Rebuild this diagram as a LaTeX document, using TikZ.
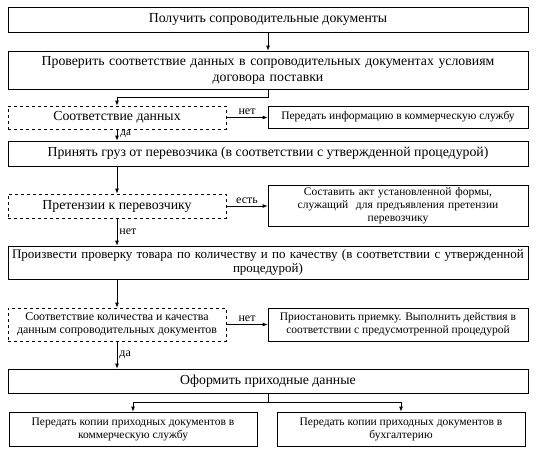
\documentclass[tikz,border=0pt]{standalone}
\usepackage{fontspec}
\setmainfont{Liberation Serif}
\usetikzlibrary{arrows.meta}

\tikzset{
  box/.style={draw, line width=0.8pt, minimum width=520pt, align=center, inner sep=1pt, font=\fontsize{13.8}{16}\selectfont},
  dbox/.style={box, dashed, minimum width=218pt},
  sbox/.style={box, minimum width=260pt, font=\fontsize{11.5}{13}\selectfont},
  arr/.style={-{Latex[length=5pt,width=4pt]}, line width=0.8pt},
  lbl/.style={font=\fontsize{12}{13}\selectfont, inner sep=2pt}
}

\begin{document}
\begin{tikzpicture}[x=1pt, y=-1pt]
  \useasboundingbox (0,0) rectangle (536,455);

  % main column
  \node[box, minimum height=25pt] (get) at (268,19.5) {Получить сопроводительные документы};
  \node[box, minimum height=38pt, text width=510pt] (check) at (268,70)
    {Проверить соответствие данных в сопроводительных документах условиям\\ договора поставки};
  \node[dbox, minimum height=23pt] (match) at (117,117.5) {Соответствие данных};
  \node[sbox, minimum height=22pt] (inform) at (398,117) {Передать информацию в коммерческую службу};
  \node[box, minimum height=25pt] (accept) at (268,153.5)
    {Принять груз от перевозчика (в соответствии с утвержденной процедурой)};
  \node[dbox, minimum height=24pt] (claim) at (117,206) {Претензии к перевозчику};
  \node[sbox, minimum height=41pt, text width=250pt] (act) at (398,205.5)
    {Составить акт установленной формы,\\ служащий \ для предъявления претензии\\ перевозчику};
  \node[box, minimum height=33pt, text width=518pt, font=\fontsize{13}{14.5}\selectfont] (inspect) at (268,262.5)
    {Произвести проверку товара по количеству и по качеству (в соответствии с утвержденной\\ процедурой)};
  \node[dbox, minimum height=33pt, font=\fontsize{11.9}{12.8}\selectfont] (qty) at (117,324.5)
    {Соответствие количества и качества\\ данным сопроводительных документов};
  \node[sbox, minimum height=33pt, font=\fontsize{11.5}{12.8}\selectfont] (stop) at (398,324.5)
    {Приостановить приемку. Выполнить действия в\\ соответствии с предусмотренной процедурой};
  \node[box, minimum height=24pt] (issue) at (268,381) {Оформить приходные данные};
  \node[sbox, minimum width=248pt, minimum height=34pt] (tocom) at (133,429)
    {Передать копии приходных документов в\\ коммерческую службу};
  \node[sbox, minimum width=248pt, minimum height=34pt] (toacc) at (401,429)
    {Передать копии приходных документов в\\ бухгалтерию};

  % connectors
  \draw[arr] (get) -- (check);
  \draw[arr] (check.south) -- ++(0,8) -| (match.north);
  \draw[arr] (match.east) -- (match.east -| inform.west) node[lbl, midway, above] {нет};
  \draw[arr] (match.south) -- (match.south |- accept.north)
    node[lbl, pos=0, anchor=north west, inner sep=1pt, xshift=2pt, font=\fontsize{11}{12}\selectfont] {да};
  \draw[arr] (claim.north |- accept.south) -- (claim.north);
  \draw[arr] (claim.east) -- (claim.east -| act.west) node[lbl, midway, above] {есть};
  \draw[arr] (claim.south) -- (claim.south |- inspect.north) node[lbl, midway, right] {нет};
  \draw[arr] (qty.north |- inspect.south) -- (qty.north);
  \draw[arr] (qty.east) -- (qty.east -| stop.west) node[lbl, midway, above] {нет};
  \draw[arr] (qty.south) -- (qty.south |- issue.north) node[lbl, midway, right] {да};
  \draw[arr] (issue.south) -- ++(0,9) -| (tocom.north);
  \draw[arr] (issue.south) -- ++(0,9) -| (toacc.north);
\end{tikzpicture}
\end{document}
